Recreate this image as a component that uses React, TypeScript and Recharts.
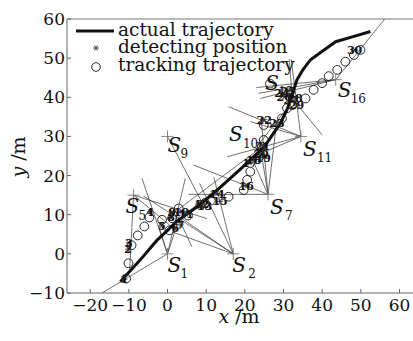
import React from "react";
import { ScatterChart, Scatter, XAxis, YAxis, ReferenceLine, Label } from "recharts";

const X_TICKS = [-20, -10, 0, 10, 20, 30, 40, 50, 60];
const Y_TICKS = [-10, 0, 10, 20, 30, 40, 50, 60];

// actual trajectory (thick line)
const actualPath = [
  { x: -12.2, y: -7.1 }, { x: -7.1, y: -1.6 }, { x: -2.7, y: 3.5 }, { x: 0, y: 6 },
  { x: 2.4, y: 8.3 }, { x: 8.5, y: 12.6 }, { x: 14, y: 17.3 }, { x: 19, y: 21.8 },
  { x: 22, y: 24.6 }, { x: 25, y: 27.3 }, { x: 27, y: 30.2 }, { x: 29.2, y: 33.4 },
  { x: 31, y: 37 }, { x: 32.2, y: 40.5 }, { x: 33.5, y: 44.5 }, { x: 35, y: 47 },
  { x: 37, y: 49.6 }, { x: 39.5, y: 51.4 }, { x: 43.5, y: 54.2 }, { x: 48, y: 55.5 },
  { x: 52.5, y: 56.8 },
];

// tracking trajectory (circles)
const trackingPts = [
  { x: -10.7, y: -6.3 }, { x: -10.1, y: -2.4 }, { x: -9.3, y: 2.2 }, { x: -7.7, y: 4.7 },
  { x: -6, y: 7 }, { x: -4.7, y: 9.3 }, { x: -1.4, y: 8.7 }, { x: 0.5, y: 6 },
  { x: 1.2, y: 9.1 }, { x: 2.9, y: 11.6 }, { x: 5.3, y: 9.8 }, { x: 8.5, y: 12.5 },
  { x: 9.7, y: 13 }, { x: 11.2, y: 13.6 }, { x: 15.8, y: 14.6 }, { x: 19.7, y: 16.3 },
  { x: 20.6, y: 18.9 }, { x: 21.4, y: 21 }, { x: 24, y: 25 }, { x: 24.4, y: 27.4 },
  { x: 24.9, y: 29.1 }, { x: 24.9, y: 32.9 }, { x: 29.6, y: 34.6 }, { x: 30.9, y: 37.2 },
  { x: 32.3, y: 38 }, { x: 26.5, y: 43.5 }, { x: 35.7, y: 39.7 }, { x: 37.8, y: 41.9 },
  { x: 40, y: 43.6 }, { x: 41.7, y: 45.4 }, { x: 43.9, y: 47 }, { x: 46, y: 49.1 },
  { x: 48.2, y: 50.8 }, { x: 49.9, y: 52.1 },
];

// detecting positions (asterisks, numbered)
const detectPts = [
  { n: 1, x: -11.2, y: -6.5 }, { n: 2, x: -10.2, y: 1.2 }, { n: 3, x: -10, y: 2.8 },
  { n: 4, x: -4.5, y: 10.8 }, { n: 5, x: -1.5, y: 7.1 }, { n: 6, x: 2, y: 6.6 },
  { n: 7, x: 3.4, y: 7.4 }, { n: 8, x: 0.9, y: 9.3 }, { n: 9, x: 1.2, y: 10.6 },
  { n: 10, x: 3.6, y: 10.8 }, { n: 11, x: 4.8, y: 10.2 }, { n: 12, x: 8.8, y: 12.8 },
  { n: 13, x: 9.6, y: 12.1 }, { n: 14, x: 12.8, y: 15.4 }, { n: 15, x: 13.6, y: 13.4 },
  { n: 16, x: 20.4, y: 17.4 }, { n: 17, x: 21.3, y: 23.3 }, { n: 18, x: 22.3, y: 23.9 },
  { n: 19, x: 24.8, y: 24.6 }, { n: 20, x: 24.2, y: 25.4 }, { n: 21, x: 24.6, y: 27.6 },
  { n: 22, x: 25, y: 34.3 }, { n: 23, x: 28.3, y: 33.5 }, { n: 24, x: 29.6, y: 41.2 },
  { n: 25, x: 31.2, y: 41.6 }, { n: 26, x: 30.2, y: 40.2 }, { n: 27, x: 32, y: 39.2 },
  { n: 28, x: 33, y: 39.8 }, { n: 29, x: 33.4, y: 38 }, { n: 30, x: 48.4, y: 52.1 },
];

// sensors
const sensors = [
  { id: "1", x: 0, y: 0 }, { id: "2", x: 17, y: 0 }, { id: "5", x: -8.8, y: 15 },
  { id: "7", x: 26, y: 15.2 }, { id: "9", x: 0, y: 30 }, { id: "10", x: 15.9, y: 33.2 },
  { id: "11", x: 34.5, y: 30 }, { id: "13", x: 25, y: 47 }, { id: "16", x: 43.5, y: 44.5 },
];

// bearing lines [x1, y1, x2, y2]
const bearings = [
  [0, 0, -17.8, -10.5], [0, 0, -6.6, 19.3], [0, 0, -2.3, 7.2], [0, 0, 2.5, 7.5], [0, 0, 4.6, 19.3],
  [17, 0, -6.2, 14.8], [17, 0, 3, 9.5], [17, 0, 8.3, 18], [17, 0, 12, 19.5], [17, 0, 1.5, 5.5],
  [-8.8, 15, -9.8, -4.5], [-8.8, 15, 10.2, 9], [-8.8, 15, 1, 7], [2, 11, 6.3, 1.8],
  [0, 30, 9, 13],
  [5.5, 15.2, 26, 15.2], [26, 15.2, 6.7, 22.7], [26, 15.2, 24, 27.4], [26, 15.2, 24.2, 34.6],
  [26, 15.2, 28.3, 34.2], [26, 15.2, 22, 24],
  [34.5, 30, 15.4, 24.8], [34.5, 30, 15.8, 37.6], [34.5, 30, 32, 49.7], [34.5, 30, 21.4, 33.8],
  [34.5, 30, 25, 26], [32.6, 39.3, 40, 30.4],
  [43.5, 44.5, 57, 61], [43.5, 44.5, 23.5, 41], [43.5, 44.5, 24, 39.7], [43.5, 44.5, 23, 42.5],
  [31.5, 49.7, 32.3, 39], [5, 10.5, 21.5, 23.5], [3, 11.5, 24, 27], [23.1, 27.4, 32.6, 39.3],
];

const SERIF = "'DejaVu Serif', 'Liberation Serif', serif";
const INK = "#111";
const THIN = "#333";

// label placement for sensor names: [S dx, S dy, sub dx, sub dy]
const sensorLabelPos: Record<string, number[]> = {
  "1": [0, 18, 13, 24],
  "2": [-1, 18, 15, 24],
  "5": [-8, 18, 5, 25],
  "7": [2, 20, 17, 26],
  "9": [0, 16, 13, 22],
  "10": [0, 17, 14, 24],
  "11": [2, 20, 16, 26],
  "13": [1, 20, 14, 26],
  "16": [2, 17, 15, 23],
};
const unmarkedSensors = ["10", "13"];

const fmt = (v: number) => String(v).replace("-", "\u2212");

function CircleShape(props: any) {
  const { cx, cy } = props;
  return <circle cx={cx} cy={cy} r={4.4} fill="none" stroke={INK} strokeWidth={0.9} />;
}

function DetectShape(props: any) {
  const { cx, cy, payload } = props;
  const r = 3;
  const d = `M${cx - r},${cy}L${cx + r},${cy}M${cx - r * 0.5},${cy - r * 0.87}L${cx + r * 0.5},${cy + r * 0.87}M${cx + r * 0.5},${cy - r * 0.87}L${cx - r * 0.5},${cy + r * 0.87}`;
  return (
    <g>
      <path d={d} stroke="#333" strokeWidth={0.9} />
      <text x={cx} y={cy + 4} textAnchor="middle" fontFamily={SERIF} fontWeight="bold" fontSize={11} fill={INK}>
        {payload.n}
      </text>
    </g>
  );
}

function SensorShape(props: any) {
  const { cx, cy, payload } = props;
  const [sx, sy, bx, by] = sensorLabelPos[payload.id];
  const marked = !unmarkedSensors.includes(payload.id);
  return (
    <g>
      {marked && (
        <path d={`M${cx - 6},${cy}L${cx + 6},${cy}M${cx},${cy - 6}L${cx},${cy + 6}`} stroke="#777" strokeWidth={0.9} />
      )}
      <text x={cx + sx} y={cy + sy} fontFamily={SERIF} fontStyle="italic" fontSize={20} fill={INK}>
        S
      </text>
      <text x={cx + bx} y={cy + by} fontFamily={SERIF} fontSize={12} fill={INK}>
        {payload.id}
      </text>
    </g>
  );
}

function LegendOverlay() {
  const t = { fontFamily: SERIF, fontSize: 18.5, fill: INK };
  return (
    <svg width={413} height={80} style={{ position: "absolute", left: 0, top: 0, pointerEvents: "none" }}>
      <line x1={76} y1={31} x2={114} y2={31} stroke={INK} strokeWidth={3} />
      <text x={118} y={35.5} {...t}>actual trajectory</text>
      <path d="M93,48L99,48M94.5,45.4L97.5,50.6M97.5,45.4L94.5,50.6" stroke="#333" strokeWidth={0.9} />
      <text x={118} y={53} {...t}>detecting position</text>
      <circle cx={96} cy={67} r={4.3} fill="none" stroke={INK} strokeWidth={0.9} />
      <text x={118} y={71} {...t}>tracking trajectory</text>
    </svg>
  );
}

export default function App() {
  const tick = { fill: INK, fontSize: 17, fontFamily: SERIF };
  return (
    <div style={{ position: "absolute", left: 0, top: 0, width: 413, height: 341, background: "#fff" }}>
      <ScatterChart width={413} height={341} margin={{ top: 19, right: 0, bottom: 0, left: 0 }}>
        <XAxis
          type="number"
          dataKey="x"
          domain={[-26, 63.5]}
          ticks={X_TICKS}
          interval={0}
          height={48}
          tickSize={-4}
          tickMargin={10}
          tick={tick}
          tickFormatter={fmt}
          stroke="#666"
        >
          <Label
            content={() => (
              <text x={239} y={323} textAnchor="middle" fontFamily={SERIF} fontSize={19} fill={INK}>
                <tspan fontStyle="italic">x</tspan> /m
              </text>
            )}
          />
        </XAxis>
        <YAxis
          type="number"
          dataKey="y"
          domain={[-10, 60]}
          ticks={Y_TICKS}
          interval={0}
          width={67}
          tickSize={-4}
          tickMargin={6}
          tick={tick}
          tickFormatter={fmt}
          stroke="#666"
        >
          <Label
            content={() => (
              <text
                x={18}
                y={157}
                transform="rotate(-90, 18, 157)"
                textAnchor="middle"
                dominantBaseline="central"
                fontFamily={SERIF}
                fontSize={19}
                fill={INK}
              >
                <tspan fontStyle="italic">y</tspan> /m
              </text>
            )}
          />
        </YAxis>
        <ReferenceLine y={60} stroke="#777" strokeWidth={1} />
        {bearings.map((b, i) => (
          <ReferenceLine
            key={i}
            segment={[{ x: b[0], y: b[1] }, { x: b[2], y: b[3] }]}
            stroke={THIN}
            strokeWidth={0.7}
            ifOverflow="hidden"
          />
        ))}
        <Scatter
          data={actualPath}
          line={{ stroke: INK, strokeWidth: 3 }}
          lineJointType="linear"
          shape={() => <g />}
          isAnimationActive={false}
        />
        <Scatter data={trackingPts} shape={CircleShape} isAnimationActive={false} />
        <Scatter data={sensors} shape={SensorShape} isAnimationActive={false} />
        <Scatter data={detectPts} shape={DetectShape} isAnimationActive={false} />
      </ScatterChart>
      <LegendOverlay />
    </div>
  );
}
